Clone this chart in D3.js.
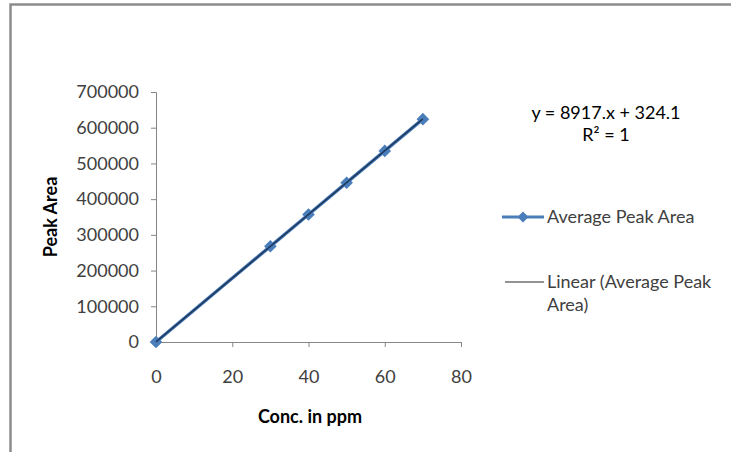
<!DOCTYPE html>
<html><head><meta charset="utf-8">
<script src="https://cdn.jsdelivr.net/npm/d3@7"></script>
<style>body{margin:0;background:#fff;}svg{display:block;font-family:Lato,"Open Sans",sans-serif;}</style>
</head><body>
<svg id="c" width="731" height="452"></svg>
<script>
const conc = [0, 30, 40, 50, 60, 70];
const peakArea = [0, 268000, 357000, 446000, 535000, 624000];
const xTicks = [0, 20, 40, 60, 80];
const yTicks = [0, 100000, 200000, 300000, 400000, 500000, 600000, 700000];
const slope = 8917, intercept = 324.1;
const trendX = [0, 70];
const eqLines = ["y = 8917.x + 324.1", "R² = 1"];
const legendLabels = ["Average Peak Area", "Linear (Average Peak", "Area)"];

const FONT = "Lato, 'Open Sans', sans-serif";
const svg = d3.select("#c");
// frame
svg.append("rect").attr("x",10.5).attr("y",4.5).attr("width",760).attr("height",470)
  .attr("fill","none").attr("stroke","#8c8c8c").attr("stroke-width",2.5);

const x = d3.scaleLinear().domain([0,80]).range([156,461]);
const y = d3.scaleLinear().domain([0,700000]).range([342,92]);

const gx = svg.append("g").attr("transform","translate(0,342)")
  .call(d3.axisBottom(x).tickValues(xTicks).tickSize(5).tickPadding(23));
const gy = svg.append("g").attr("transform","translate(156,0)")
  .call(d3.axisLeft(y).tickValues(yTicks).tickSize(5).tickPadding(12).tickFormat(d3.format("d")));
[gx,gy].forEach(g=>{
  g.selectAll("path,line").attr("stroke","#868686");
  g.selectAll("text").attr("fill","#404040").style("font-size","18px").style("font-family",FONT);
});

const diamond = d3.symbol(d3.symbolSquare, 80)();
const pts = conc.map((c,i)=>[c,peakArea[i]]);
svg.append("path").datum(pts)
  .attr("d", d3.line().x(d=>x(d[0])).y(d=>y(d[1])))
  .attr("fill","none").attr("stroke","#4A7EBB").attr("stroke-width",3.5);
svg.selectAll(".m").data(pts).enter().append("path")
  .attr("transform",d=>`translate(${x(d[0])},${y(d[1])}) rotate(45)`)
  .attr("d", diamond)
  .attr("fill","#4A7EBB");
svg.append("path").datum(trendX.map(v=>[v, slope*v+intercept]))
  .attr("d", d3.line().x(d=>x(d[0])).y(d=>y(d[1])))
  .attr("fill","none").attr("stroke","#1F3A60").attr("stroke-width",1.6);

// equation
svg.selectAll(".eq").data(eqLines).enter().append("text")
  .attr("x",606).attr("y",(d,i)=>119+i*22).attr("text-anchor","middle")
  .attr("fill","#000").style("font-size","18px").text(d=>d);

// axis titles
svg.append("text").attr("transform","translate(57,217) rotate(-90)").attr("text-anchor","middle")
  .style("font-size","18px").style("font-weight","bold").attr("fill","#000").text("Peak Area");
svg.append("text").attr("x",310).attr("y",423).attr("text-anchor","middle")
  .style("font-size","18px").style("font-weight","bold").attr("fill","#000").text("Conc. in ppm");

// legend
svg.append("line").attr("x1",502).attr("x2",544).attr("y1",217).attr("y2",217)
  .attr("stroke","#4A7EBB").attr("stroke-width",3);
svg.append("path").attr("transform","translate(523,217) rotate(45)").attr("d", d3.symbol(d3.symbolSquare,60)()).attr("fill","#4A7EBB");
svg.append("line").attr("x1",505).attr("x2",544).attr("y1",282).attr("y2",282)
  .attr("stroke","#6f6f6f").attr("stroke-width",1.5);
svg.selectAll(".lg").data(legendLabels).enter().append("text")
  .attr("x",547).attr("y",(d,i)=>[223,288,311][i]).attr("fill","#404040")
  .style("font-size","18px").text(d=>d);
</script>
</body></html>
